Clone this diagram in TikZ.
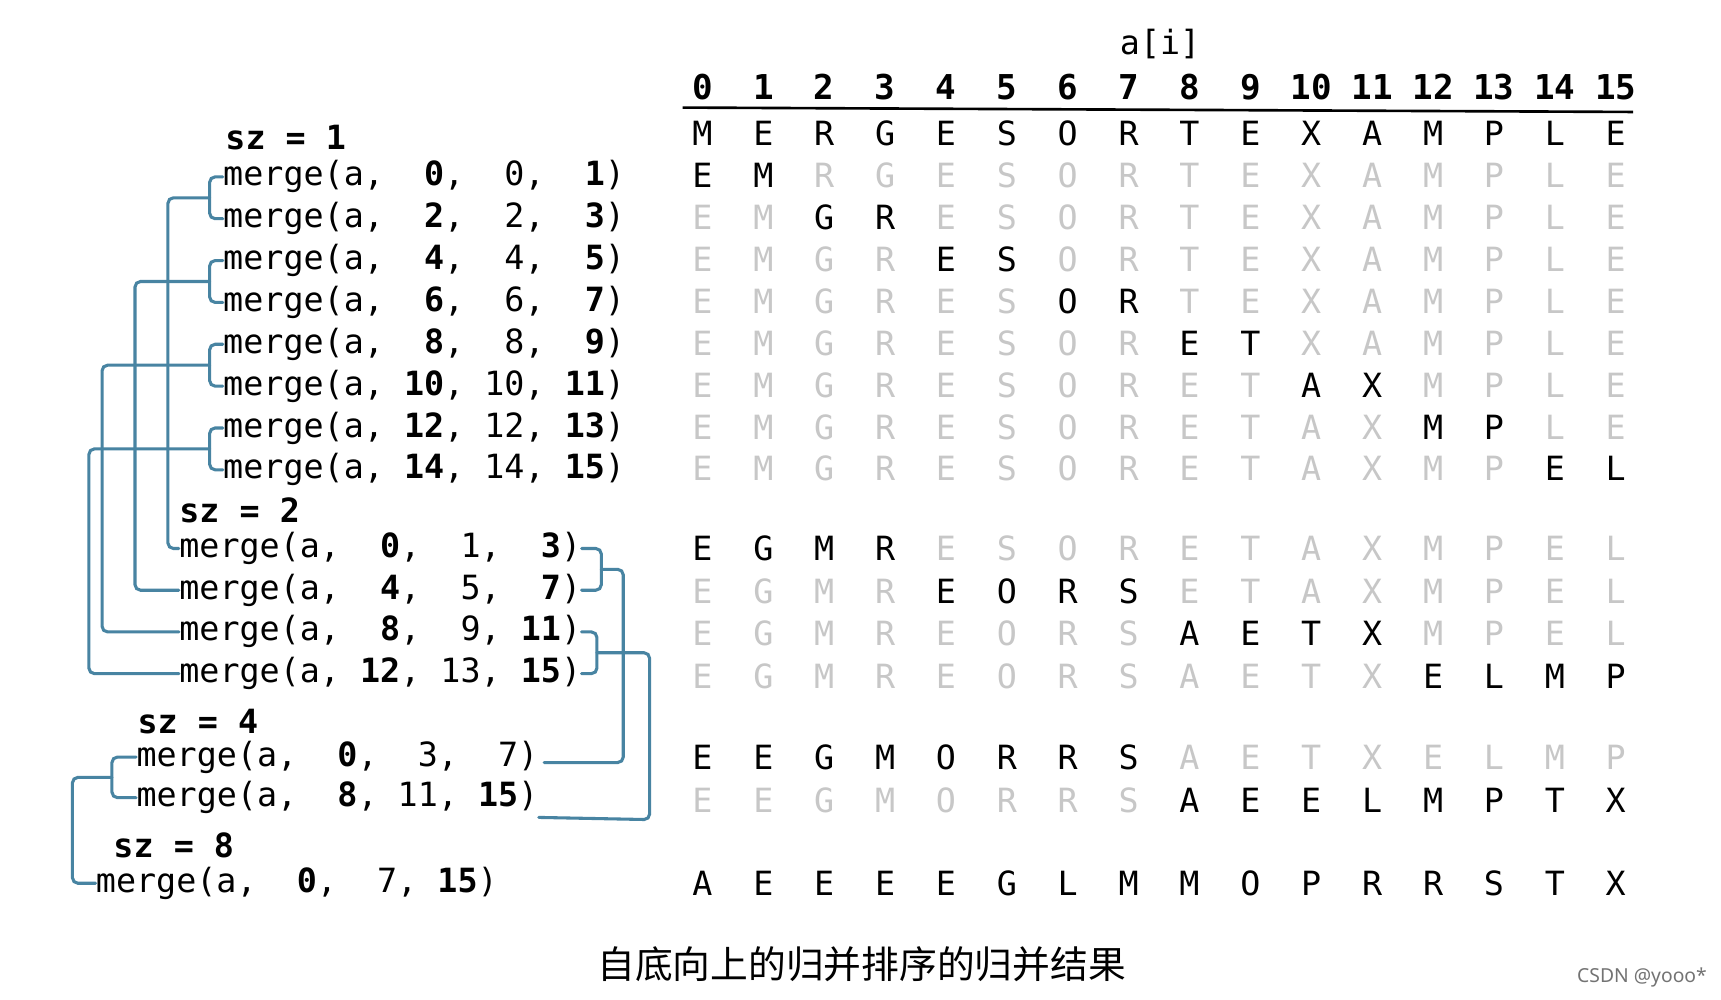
\documentclass[tikz,border=0pt]{standalone}
\usepackage{fontspec}
\setmonofont{DejaVu Sans Mono}
\newfontfamily\cjk{Noto Sans CJK SC}
\newfontfamily\wmfont{Noto Sans}
\usetikzlibrary{calc}

\definecolor{penblue}{RGB}{72,132,162}
\newcommand{\pz}{\phantom{0}}
\newcommand{\bd}[1]{\textbf{#1}}
\newcommand{\pad}[1]{\ifnum#1<10 \pz\fi}
\newcommand{\mcall}[3]{merge(a,\pz#1,\pz#2,\pz#3)}
% one line of the array: name, baseline, lo, hi, letters
\newcommand{\sortrow}[5]{%
  \foreach \ch [count=\k from 0] in {#5}{%
    \ifnum\k<#3\relax\def\tone{faded}\else\ifnum\k>#4\relax\def\tone{faded}\else\def\tone{inked}\fi\fi
    \node[cell,\tone] (#1-\k) at ({640+55.47*\k},#2) {\ch};
  }}

\begin{document}
\begin{tikzpicture}[x=0.5pt,y=-0.5pt,
  cell/.style={font=\ttfamily\fontsize{15.2}{18}\selectfont, anchor=base, inner sep=0pt},
  idx/.style={cell, font=\ttfamily\bfseries\fontsize{15.6}{18}\selectfont},
  faded/.style={text=black!22},
  inked/.style={text=black},
  call/.style={font=\ttfamily\fontsize{15.2}{18}\selectfont, anchor=base west, inner sep=0pt},
  szlabel/.style={call, font=\ttfamily\bfseries\fontsize{15.2}{18}\selectfont},
  wire/.style={penblue, line width=1.4pt, rounded corners=2.5pt, line cap=round}]
\fill[white] (0,0) rectangle (1568,911);
\useasboundingbox (0,0) rectangle (1568,911);

% header
\node[cell] (ai) at (1057,50) {a[i]};
\foreach \i in {0,...,15}
  \node[idx] (h\i) at ({640+55.47*\i},91) {\i};
\draw[line width=1.2pt] (622,98) -- (1488,102);
\sortrow{r0}{133}{0}{15}{M,E,R,G,E,S,O,R,T,E,X,A,M,P,L,E}

% sz = 1
\node[szlabel] (sz1) at (205,136) {sz\pz=\pz1};
\foreach \lo [count=\r from 0, evaluate=\lo as \hi using int(\lo+1)] in {0,2,...,14}
  \node[call] (m1-\r) at (203,{169.4+38.13*\r}) {\mcall{\pad{\lo}\bd{\lo}}{\pad{\lo}\lo}{\pad{\hi}\bd{\hi}}};
\sortrow{r1-0}{171}{0}{1}{E,M,R,G,E,S,O,R,T,E,X,A,M,P,L,E}
\sortrow{r1-1}{209}{2}{3}{E,M,G,R,E,S,O,R,T,E,X,A,M,P,L,E}
\sortrow{r1-2}{247}{4}{5}{E,M,G,R,E,S,O,R,T,E,X,A,M,P,L,E}
\sortrow{r1-3}{286}{6}{7}{E,M,G,R,E,S,O,R,T,E,X,A,M,P,L,E}
\sortrow{r1-4}{324}{8}{9}{E,M,G,R,E,S,O,R,E,T,X,A,M,P,L,E}
\sortrow{r1-5}{362}{10}{11}{E,M,G,R,E,S,O,R,E,T,A,X,M,P,L,E}
\sortrow{r1-6}{400}{12}{13}{E,M,G,R,E,S,O,R,E,T,A,X,M,P,L,E}
\sortrow{r1-7}{438}{14}{15}{E,M,G,R,E,S,O,R,E,T,A,X,M,P,E,L}

% sz = 2
\node[szlabel] (sz2) at (163,476) {sz\pz=\pz2};
\node[call] (m2-0) at (163,508) {\mcall{\pz\bd{0}}{\pz1}{\pz\bd{3}}};
\node[call] (m2-1) at (163,546) {\mcall{\pz\bd{4}}{\pz5}{\pz\bd{7}}};
\node[call] (m2-2) at (163,584) {\mcall{\pz\bd{8}}{\pz9}{\bd{11}}};
\node[call] (m2-3) at (163,622) {\mcall{\bd{12}}{13}{\bd{15}}};
\sortrow{r2-0}{511}{0}{3}{E,G,M,R,E,S,O,R,E,T,A,X,M,P,E,L}
\sortrow{r2-1}{550}{4}{7}{E,G,M,R,E,O,R,S,E,T,A,X,M,P,E,L}
\sortrow{r2-2}{588}{8}{11}{E,G,M,R,E,O,R,S,A,E,T,X,M,P,E,L}
\sortrow{r2-3}{627}{12}{15}{E,G,M,R,E,O,R,S,A,E,T,X,E,L,M,P}

% sz = 4
\node[szlabel] (sz4) at (125,668) {sz\pz=\pz4};
\node[call] (m4-0) at (124,698) {\mcall{\pz\bd{0}}{\pz3}{\pz7}};
\node[call] (m4-1) at (124,735) {\mcall{\pz\bd{8}}{11}{\bd{15}}};
\sortrow{r4-0}{701}{0}{7}{E,E,G,M,O,R,R,S,A,E,T,X,E,L,M,P}
\sortrow{r4-1}{740}{8}{15}{E,E,G,M,O,R,R,S,A,E,E,L,M,P,T,X}

% sz = 8
\node[szlabel] (sz8) at (103,781) {sz\pz=\pz8};
\node[call] (m8) at (87,813) {\mcall{\pz\bd{0}}{\pz7}{\bd{15}}};
\sortrow{r8}{816}{0}{15}{A,E,E,E,E,G,L,M,M,O,P,R,R,S,T,X}

% brackets
\foreach \p in {0,...,3} {
  \pgfmathtruncatemacro{\u}{2*\p}
  \pgfmathtruncatemacro{\v}{2*\p+1}
  \draw[wire] (m1-\u.west) -- ++(-12,0) |- (m1-\v.west);
  \coordinate (j1-\p) at ($(m1-\u.west)!.5!(m1-\v.west)+(-12,0)$);
}
\draw[wire] (j1-0) -| ($(m2-0.west)+(-10,0)$) -- (m2-0.west);
\draw[wire] (j1-1) -| ($(m2-1.west)+(-40,0)$) -- (m2-1.west);
\draw[wire] (j1-2) -| ($(m2-2.west)+(-70,0)$) -- (m2-2.west);
\draw[wire] (j1-3) -| ($(m2-3.west)+(-82,0)$) -- (m2-3.west);

\draw[wire] (m2-0.east) -- ++(18,0) |- (m2-1.east);
\coordinate (j2-0) at ($(m2-0.east)!.5!(m2-1.east)+(18,0)$);
\draw[wire] (m2-2.east) -- ++(14,0) |- (m2-3.east);
\coordinate (j2-1) at ($(m2-2.east)!.5!(m2-3.east)+(14,0)$);
\draw[wire] (j2-0) -| ($(m4-0.east)+(77,5)$) -- ($(m4-0.east)+(5,5)$);
\draw[wire] (j2-1) -| ($(m4-1.east)+(101,20)$) -- ($(m4-1.east)+(0,18)$);

\draw[wire] (m4-0.west) -- ++(-22,0) |- (m4-1.west);
\coordinate (j4) at ($(m4-0.west)!.5!(m4-1.west)+(-22,0)$);
\draw[wire] (j4) -| ($(m8.west)+(-21,0)$) -- (m8.west);

% caption
\node[font=\cjk\fontsize{17.2}{20}\selectfont] (caption) at (785,878) {自底向上的归并排序的归并结果};
\node[font=\wmfont\fontsize{8.8}{10}\selectfont, text=black!55] (mark) at (1496,891) {CSDN @yooo*};
\end{tikzpicture}
\end{document}
